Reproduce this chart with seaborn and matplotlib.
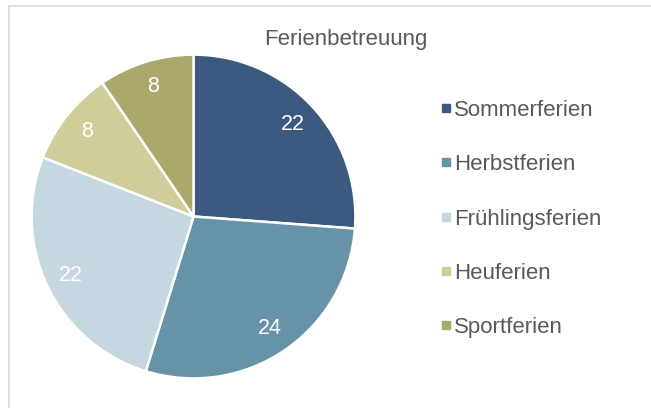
import matplotlib
matplotlib.use("Agg")
import numpy as np
import matplotlib.pyplot as plt
import seaborn as sns
from matplotlib.lines import Line2D
from matplotlib.patches import Rectangle

# Daten
categories = ["Sommerferien", "Herbstferien", "Frühlingsferien", "Heuferien", "Sportferien"]
values = [22, 24, 22, 8, 8]
colors = ["#3c5a80", "#6793a8", "#c5d7e0", "#cfcd9a", "#aba86c"]
title = "Ferienbetreuung"

sns.set_theme(style="white")
plt.rcParams["font.family"] = ["Liberation Sans", "DejaVu Sans"]

fig = plt.figure(figsize=(6.51, 4.08), dpi=100)

# grauer Rahmen (wie im Original angeschnitten)
fig.patches.append(Rectangle((9 / 651, -0.05), 1.0, 1 - 6 / 408 + 0.05,
                             transform=fig.transFigure, fill=False,
                             edgecolor="#d9d9d9", linewidth=1.2))

ax = fig.add_axes([30 / 651, 28 / 408, 327 / 651, 327 / 408])
wedges, texts = ax.pie(values, colors=colors, startangle=90, counterclock=False,
                       wedgeprops=dict(edgecolor="white", linewidth=1.8))
for w, v in zip(wedges, values):
    ang = np.deg2rad((w.theta1 + w.theta2) / 2)
    ax.text(0.84 * np.cos(ang), 0.84 * np.sin(ang), str(v), ha="center", va="center",
            color="white", fontsize=15.5)
ax.set_xlim(-1.01, 1.01)
ax.set_ylim(-1.01, 1.01)
ax.set_aspect("equal")
ax.axis("off")

fig.text(346 / 651, 1 - 40 / 408, title, ha="center", va="center",
         fontsize=16, color="#595959")

handles = [Line2D([], [], marker="s", linestyle="none", markersize=5.5,
                  markerfacecolor=c, markeredgecolor=c) for c in colors]
leg = fig.legend(handles, categories, loc="center left",
                 bbox_to_anchor=(440 / 651, 1 - 219 / 408), frameon=False,
                 fontsize=16, labelspacing=1.5, handlelength=0.5,
                 handletextpad=0.15, borderpad=0, borderaxespad=0)
for t in leg.get_texts():
    t.set_color("#595959")

fig.savefig("out.png", dpi=100)
